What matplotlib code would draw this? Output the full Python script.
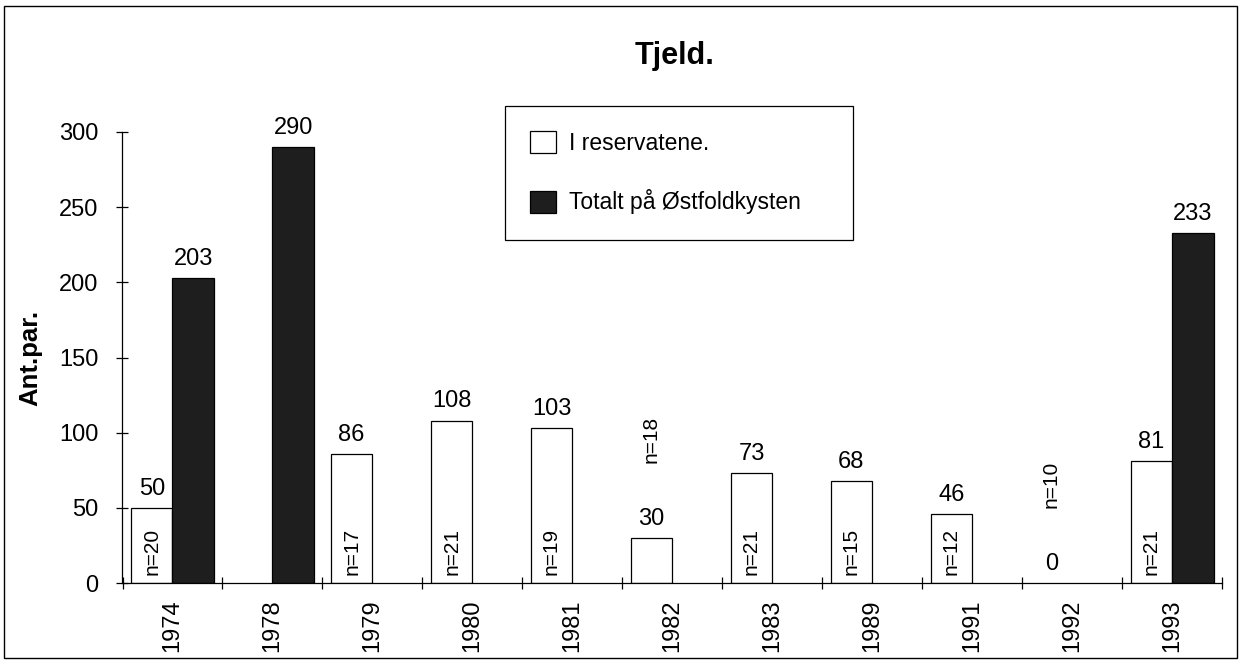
import matplotlib
matplotlib.use('Agg')
import matplotlib.pyplot as plt
import numpy as np
from matplotlib.patches import Rectangle, Patch

plt.rcParams['font.family'] = ['Liberation Sans', 'DejaVu Sans']

# ---- data ----
years = ['1974', '1978', '1979', '1980', '1981', '1982', '1983', '1989', '1991', '1992', '1993']
reservat = [50, None, 86, 108, 103, 30, 73, 68, 46, 0, 81]
totalt = [203, 290, None, None, None, None, None, None, None, None, 233]
n_vals = [20, None, 17, 21, 19, 18, 21, 15, 12, 10, 21]
yticks = [0, 50, 100, 150, 200, 250, 300]
title = 'Tjeld.'
ylabel = 'Ant.par.'
label_res = 'I reservatene.'
label_tot = 'Totalt på Østfoldkysten'

W, H = 1242, 663
fig = plt.figure(figsize=(W / 100, H / 100), dpi=100)
fig.patch.set_facecolor('white')

ax_l, ax_r, ax_t, ax_b = 122.5, 1222, 132, 583
ax = fig.add_axes([ax_l / W, 1 - ax_b / H, (ax_r - ax_l) / W, (ax_b - ax_t) / H])

x = np.arange(len(years))
bw = 0.415
dark = '#1e1e1e'

for i, v in enumerate(reservat):
    if v is None:
        continue
    xc = x[i] - bw / 2
    if v > 0:
        ax.bar(xc, v, width=bw, color='white', edgecolor='black', linewidth=0.9, zorder=2)
    ax.annotate(str(v), xy=(xc, v), xytext=(0, 9.5), textcoords='offset points',
                ha='center', va='baseline', fontsize=17, annotation_clip=False)
    n = n_vals[i]
    if n is not None:
        if v >= 40:
            ax.annotate(f'n={n}', xy=(xc, 0), xytext=(0, 6), textcoords='offset points',
                        ha='center', va='bottom', rotation=90, fontsize=15, zorder=3)
        else:
            ax.annotate(f'n={n}', xy=(xc, v), xytext=(0, 54), textcoords='offset points',
                        ha='center', va='bottom', rotation=90, fontsize=15, zorder=3)

for i, v in enumerate(totalt):
    if v is None:
        continue
    xc = x[i] + bw / 2
    ax.bar(xc, v, width=bw, color=dark, edgecolor='black', linewidth=0.9, zorder=2)
    ax.annotate(str(v), xy=(xc, v), xytext=(0, 9.5), textcoords='offset points',
                ha='center', va='baseline', fontsize=17, annotation_clip=False)

ax.set_xlim(-0.5, len(years) - 0.5)
ax.set_ylim(0, 300)
ax.set_yticks(yticks)
ax.set_yticklabels([str(t) for t in yticks], fontsize=17)
ax.tick_params(axis='y', direction='inout', length=9, width=0.9, pad=13)

ax.set_xticks(np.arange(-0.5, len(years), 1))
ax.set_xticklabels([])
ax.tick_params(axis='x', which='major', direction='inout', length=8, width=0.9)
ax.set_xticks(x, minor=True)
ax.set_xticklabels(years, minor=True, rotation=90, fontsize=17)
ax.tick_params(axis='x', which='minor', length=0, pad=12)

for s in ['top', 'right']:
    ax.spines[s].set_visible(False)
for s in ['left', 'bottom']:
    ax.spines[s].set_linewidth(0.9)

# title and y label
fig.text(675 / W, 1 - 64 / H, title, ha='center', va='baseline', fontsize=22, fontweight='bold')
fig.text(30 / W, 1 - 358 / H, ylabel, ha='center', va='center', rotation=90,
         fontsize=18.5, fontweight='bold')

# legend
handles = [Patch(facecolor='white', edgecolor='black', linewidth=0.9),
           Patch(facecolor=dark, edgecolor='black', linewidth=0.9)]
lx0, lx1, ly0, ly1 = 505, 853, 106, 240
leg = fig.legend(handles, [label_res, label_tot], loc='upper left',
                 bbox_to_anchor=(lx0 / W, 1 - ly1 / H, (lx1 - lx0) / W, (ly1 - ly0) / H),
                 bbox_transform=fig.transFigure, mode='expand', borderaxespad=0,
                 fontsize=16.5, handlelength=1.13, handleheight=1.1, handletextpad=0.55,
                 labelspacing=1.5, borderpad=1.1, fancybox=False, framealpha=1,
                 edgecolor='black')
leg.get_frame().set_linewidth(0.9)

# outer frame
fig.add_artist(Rectangle((4 / W, 1 - 658 / H), (1237 - 4) / W, (658 - 6) / H,
                         transform=fig.transFigure, fill=False, edgecolor='black',
                         linewidth=1.0))

fig.savefig('out.png', dpi=100)
